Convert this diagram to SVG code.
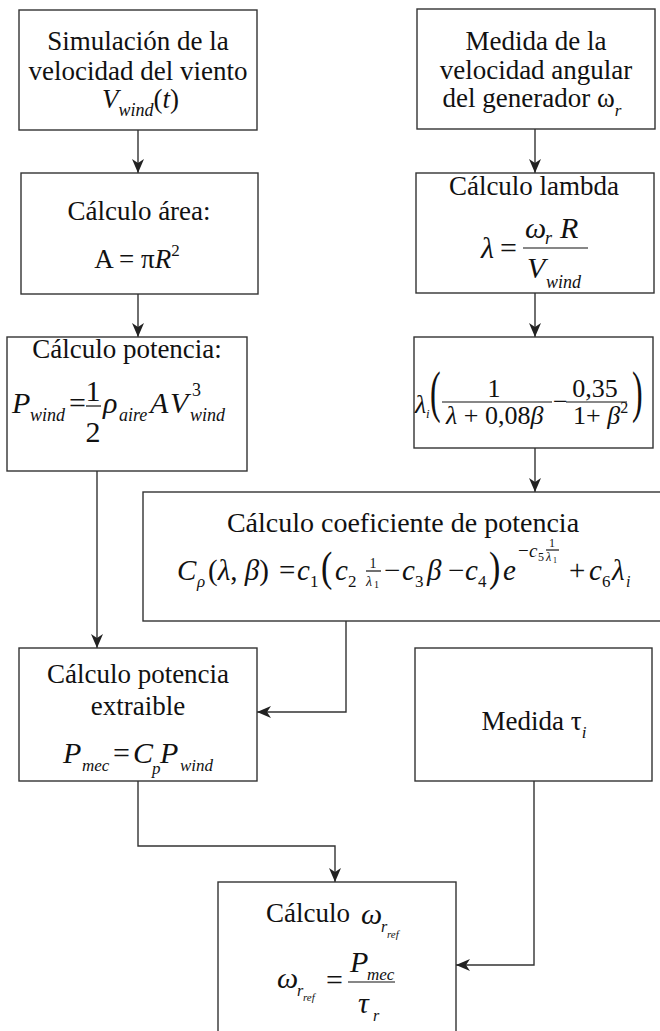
<svg xmlns="http://www.w3.org/2000/svg" width="660" height="1031" viewBox="0 0 660 1031">
<style>
.box{fill:#fff;stroke:#333;stroke-width:1.4}
.t{font-family:"Liberation Serif","Times New Roman",serif;font-size:27px;fill:#111}
.f{font-family:"Liberation Serif","Times New Roman",serif;fill:#111}
.i{font-style:italic}
.c{fill:none;stroke:#333;stroke-width:1.4}
.fl{stroke:#111;stroke-width:1.2}
</style>
<defs>
<marker id="ah" viewBox="0 0 14 12" refX="14" refY="6" markerWidth="14" markerHeight="12" orient="auto" markerUnits="userSpaceOnUse">
<path d="M0,0 L14,6 L0,12 L4,6 z" fill="#222"/>
</marker>
</defs>
<rect width="660" height="1031" fill="#fff"/>

<g id="connectors">
<path class="c" d="M138,130 V173" marker-end="url(#ah)"/>
<path class="c" d="M535,129 V173" marker-end="url(#ah)"/>
<path class="c" d="M138,294 V337" marker-end="url(#ah)"/>
<path class="c" d="M535,293 V337" marker-end="url(#ah)"/>
<path class="c" d="M535,448 V492" marker-end="url(#ah)"/>
<path class="c" d="M97,471 V648" marker-end="url(#ah)"/>
<path class="c" d="M346,621 V712 H257" marker-end="url(#ah)"/>
<path class="c" d="M138,781 V846 H335 V882" marker-end="url(#ah)"/>
<path class="c" d="M534,781 V965 H456" marker-end="url(#ah)"/>
</g>

<g id="n1" font-size="30">
<rect class="box" x="19" y="10" width="238" height="120"/>
<text class="t" x="138" y="50" text-anchor="middle">Simulación de la</text>
<text class="t" x="138" y="80" text-anchor="middle">velocidad del viento</text>
<text class="t" y="108"><tspan x="102" class="i">V</tspan><tspan class="i" font-size="18" dy="8">wind</tspan><tspan dy="-8">(</tspan><tspan class="i">t</tspan>)</text>
</g>

<g id="n2" font-size="30">
<rect class="box" x="417" y="9" width="238" height="120"/>
<text class="t" x="536" y="50" text-anchor="middle">Medida de la</text>
<text class="t" x="536" y="79" text-anchor="middle">velocidad angular</text>
<text class="t" x="532" y="107" text-anchor="middle">del generador ω<tspan class="i" font-size="17" dy="9">r</tspan></text>
</g>

<g id="n3" font-size="30">
<rect class="box" x="21" y="173" width="237" height="121"/>
<text class="t" x="139" y="220" text-anchor="middle">Cálculo área:</text>
<text class="t" x="137" y="268" text-anchor="middle">A = π<tspan class="i">R</tspan><tspan font-size="17" dy="-12">2</tspan></text>
</g>

<g id="n4" font-size="30">
<rect class="box" x="416" y="173" width="238" height="120"/>
<text class="t" x="534" y="195" text-anchor="middle">Cálculo lambda</text>
<text class="f i" x="481" y="258">λ</text>
<text class="f" x="500" y="258">=</text>
<line class="fl" x1="523" y1="248" x2="588" y2="248"/>
<text class="f i" x="525" y="238">ω</text>
<text class="f i" x="545" y="244" font-size="18">r</text>
<text class="f i" x="560" y="238">R</text>
<text class="f i" x="527" y="278">V</text>
<text class="f i" x="546" y="288" font-size="18">wind</text>
</g>

<g id="n5" font-size="30">
<rect class="box" x="7" y="337" width="240" height="134"/>
<text class="t" x="127" y="358" text-anchor="middle">Cálculo potencia:</text>
<text class="f i" x="12" y="413">P</text>
<text class="f i" x="30" y="421" font-size="18">wind</text>
<text class="f" x="69" y="413">=</text>
<text class="f" x="93" y="401" text-anchor="middle">1</text>
<line class="fl" x1="86" y1="406" x2="101" y2="406"/>
<text class="f" x="93" y="442" text-anchor="middle">2</text>
<text class="f i" x="103" y="413">ρ</text>
<text class="f i" x="119" y="421" font-size="18">aire</text>
<text class="f i" x="150" y="413">A</text>
<text class="f i" x="170" y="413">V</text>
<text class="f" x="192" y="396" font-size="18">3</text>
<text class="f i" x="190" y="421" font-size="18">wind</text>
</g>

<g id="n6" font-size="26">
<rect class="box" x="414" y="337" width="239" height="111"/>
<text class="f i" x="415" y="413">λ</text>
<text class="f i" x="426" y="418" font-size="13">i</text>
<text class="f" font-size="32" transform="translate(430,411) scale(1,1.75)">(</text>
<text class="f" x="494" y="397" text-anchor="middle">1</text>
<line class="fl" x1="442" y1="402" x2="552" y2="402"/>
<text class="f" x="446" y="424"><tspan class="i">λ</tspan> + 0,08<tspan class="i">β</tspan></text>
<text class="f" x="553" y="410">−</text>
<text class="f" x="595" y="397" text-anchor="middle">0,35</text>
<line class="fl" x1="566" y1="402" x2="627" y2="402"/>
<text class="f" x="573" y="424">1+ <tspan class="i">β</tspan><tspan font-size="16" dy="-11">2</tspan></text>
<text class="f" font-size="32" transform="translate(632,411) scale(1,1.75)">)</text>
</g>

<g id="n7" font-size="29">
<rect class="box" x="143" y="492" width="527" height="129"/>
<text class="t" x="403" y="532" text-anchor="middle" style="font-size:28px">Cálculo coeficiente de potencia</text>
<text class="f i" x="177" y="580">C</text>
<text class="f i" x="197" y="587" font-size="17">ρ</text>
<text class="f" x="208" y="580">(<tspan class="i">λ</tspan>, <tspan class="i">β</tspan>)</text>
<text class="f" x="279" y="580">=</text>
<text class="f i" x="297" y="580">c</text>
<text class="f" x="310" y="587" font-size="17">1</text>
<text class="f" font-size="34" transform="translate(321,581) scale(1,1.25)">(</text>
<text class="f i" x="335" y="580">c</text>
<text class="f" x="348" y="587" font-size="17">2</text>
<text class="f" x="373" y="568" font-size="14" text-anchor="middle">1</text>
<line class="fl" x1="366" y1="571" x2="381" y2="571" stroke-width="0.8"/>
<text class="f i" x="366" y="586" font-size="14">λ</text>
<text class="f" x="374" y="588" font-size="10">1</text>
<text class="f" x="384" y="580">−</text>
<text class="f i" x="402" y="580">c</text>
<text class="f" x="415" y="587" font-size="17">3</text>
<text class="f i" x="427" y="580">β</text>
<text class="f" x="448" y="580">−</text>
<text class="f i" x="465" y="580">c</text>
<text class="f" x="478" y="587" font-size="17">4</text>
<text class="f" font-size="34" transform="translate(489,581) scale(1,1.25)">)</text>
<text class="f i" x="503" y="580">e</text>
<text class="f" x="518" y="557" font-size="19">−</text>
<text class="f i" x="529" y="557" font-size="19">c</text>
<text class="f" x="538" y="561" font-size="12">5</text>
<text class="f" x="552" y="547" font-size="12" text-anchor="middle">1</text>
<line class="fl" x1="546" y1="550" x2="559" y2="550" stroke-width="0.7"/>
<text class="f i" x="546" y="561" font-size="12">λ</text>
<text class="f" x="553" y="563" font-size="8">1</text>
<text class="f" x="569" y="580">+</text>
<text class="f i" x="589" y="580">c</text>
<text class="f" x="602" y="587" font-size="17">6</text>
<text class="f i" x="612" y="580">λ</text>
<text class="f i" x="626" y="587" font-size="16">i</text>
</g>

<g id="n8" font-size="30">
<rect class="box" x="19" y="648" width="238" height="133"/>
<text class="t" x="138" y="683" text-anchor="middle">Cálculo potencia</text>
<text class="t" x="138" y="715" text-anchor="middle">extraible</text>
<text class="f i" x="63" y="763">P</text>
<text class="f i" x="82" y="771" font-size="17">mec</text>
<text class="f" x="113" y="763">=</text>
<text class="f i" x="133" y="763">C</text>
<text class="f i" x="152" y="774" font-size="17">p</text>
<text class="f i" x="160" y="763">P</text>
<text class="f i" x="180" y="771" font-size="17">wind</text>
</g>

<g id="n9" font-size="30">
<rect class="box" x="415" y="648" width="237" height="133"/>
<text class="t" x="534" y="730" text-anchor="middle">Medida τ<tspan class="i" font-size="17" dy="8">i</tspan></text>
</g>

<g id="n10" font-size="30">
<rect class="box" x="218" y="882" width="238" height="160"/>
<text class="t" x="266" y="922">Cálculo</text>
<text class="f i" x="361" y="924">ω</text>
<text class="f i" x="381" y="932" font-size="16">r</text>
<text class="f i" x="387" y="938" font-size="11">ref</text>
<text class="f i" x="277" y="988">ω</text>
<text class="f i" x="297" y="996" font-size="16">r</text>
<text class="f i" x="303" y="1001" font-size="11">ref</text>
<text class="f" x="326" y="990">=</text>
<line class="fl" x1="348" y1="982" x2="395" y2="982"/>
<text class="f i" x="350" y="972">P</text>
<text class="f i" x="367" y="980" font-size="17">mec</text>
<text class="f i" x="358" y="1013">τ</text>
<text class="f i" x="373" y="1021" font-size="16">r</text>
</g>
</svg>
